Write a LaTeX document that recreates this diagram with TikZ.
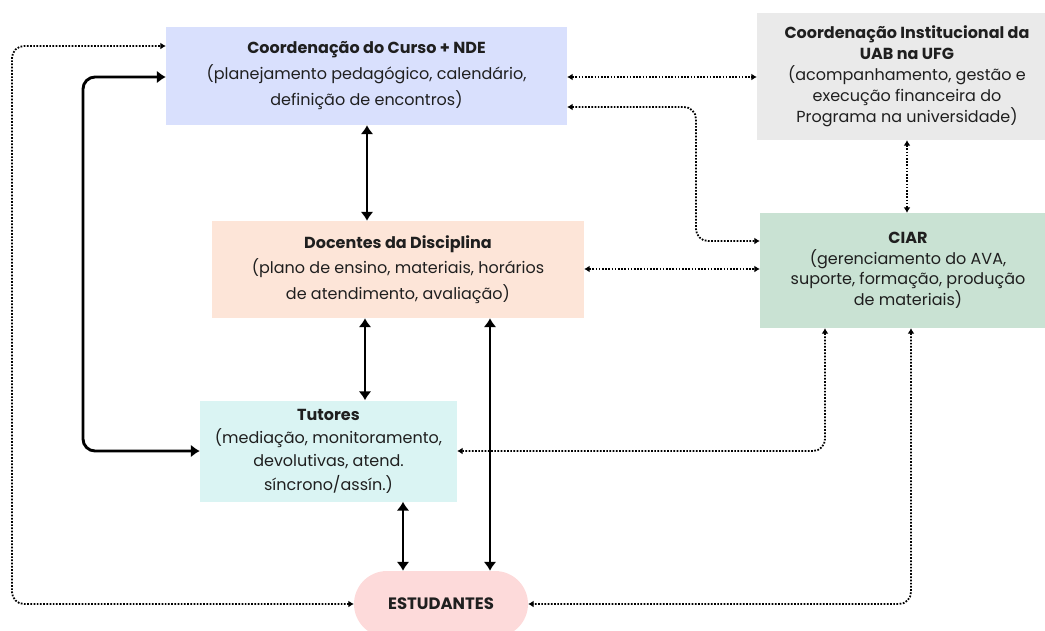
\documentclass[tikz,border=0pt]{standalone}
\usepackage{fontspec}
\setmainfont{Poppins}
\usetikzlibrary{arrows.meta}
\definecolor{cCoord}{HTML}{D9E0FD}
\definecolor{cInst}{HTML}{EAEAEA}
\definecolor{cCiar}{HTML}{C9E2D3}
\definecolor{cDoc}{HTML}{FDE5D8}
\definecolor{cTut}{HTML}{DAF4F3}
\definecolor{cEst}{HTML}{FDDADA}
\tikzset{
  box/.style={draw=none, align=center, inner sep=0pt, text=black!88},
  solidarr/.style={line width=2.9pt, {Latex[length=9pt,width=13pt]}-{Latex[length=9pt,width=13pt]}, rounded corners=12pt},
  dotarr/.style={line width=1.8pt, dash pattern=on 1.7pt off 1.5pt, {Latex[length=5.5pt,width=7pt]}-{Latex[length=5.5pt,width=7pt]}, rounded corners=12pt},
}
\begin{document}
\begin{tikzpicture}[x=1pt,y=-1pt]
\useasboundingbox (0,0) rectangle (1045,630);
\node[box, fill=cCoord, minimum width=401pt, minimum height=98pt,
  font=\fontsize{16}{26}\selectfont] (coord) at (366.5,76)
  {\textbf{Coordenação do Curso + NDE}\\(planejamento pedagógico, calendário,\\definição de encontros)};
\node[box, fill=cInst, minimum width=300pt, minimum height=127pt,
  font=\fontsize{16}{21}\selectfont] (inst) at (907,76.5)
  {\textbf{Coordenação Institucional da}\\\textbf{UAB na UFG}\\(acompanhamento, gestão e\\execução financeira do\\Programa na universidade)};
\node[box, fill=cDoc, minimum width=372pt, minimum height=97pt,
  font=\fontsize{16}{25.5}\selectfont] (doc) at (398,269.5)
  {\textbf{Docentes da Disciplina}\\(plano de ensino, materiais, horários\\de atendimento, avaliação)};
\node[box, fill=cCiar, minimum width=296pt, minimum height=115pt,
  font=\fontsize{16}{20.5}\selectfont] (ciar) at (908,270.5)
  {\textbf{CIAR}\\(gerenciamento do AVA,\\suporte, formação, produção\\de materiais)};
\node[box, fill=cTut, minimum width=257pt, minimum height=101pt,
  font=\fontsize{16}{23.3}\selectfont] (tut) at (328.5,451)
  {\textbf{Tutores}\\(mediação, monitoramento,\\devolutivas, atend.\\síncrono/assín.)};
\node[box, fill=cEst, minimum width=174pt, minimum height=66pt, rounded corners=33pt,
  font=\fontsize{16.5}{20}\selectfont] (est) at (441,604)
  {\textbf{ESTUDANTES}};
% solid connectors
\draw[solidarr] (coord.south -| 367,0) -- (doc.north -| 367,0);
\draw[solidarr] (doc.south -| 365,0) -- (tut.north -| 365,0);
\draw[solidarr] (tut.south -| 403,0) -- (est.north -| 403,0);
\draw[solidarr] (doc.south -| 490,0) -- (est.north -| 490,0);
\draw[solidarr] (tut.west) -- (83,451) -- (83,77) -- (coord.west |- 0,77);
% dotted connectors
\draw[dotarr] (est.west) -- (12,604) -- (12,46) -- (coord.west |- 0,46);
\draw[dotarr] (coord.east |- 0,77) -- (inst.west |- 0,77);
\draw[dotarr] (coord.east |- 0,107) -- (696,107) -- (696,241) -- (ciar.west |- 0,241);
\draw[dotarr] (inst.south -| 907,0) -- (ciar.north -| 907,0);
\draw[dotarr] (doc.east |- 0,269) -- (ciar.west |- 0,269);
\draw[dotarr] (ciar.south -| 825,0) -- (825,451) -- (tut.east);
\draw[dotarr] (ciar.south -| 911,0) -- (911,604) -- (est.east);
\end{tikzpicture}
\end{document}
